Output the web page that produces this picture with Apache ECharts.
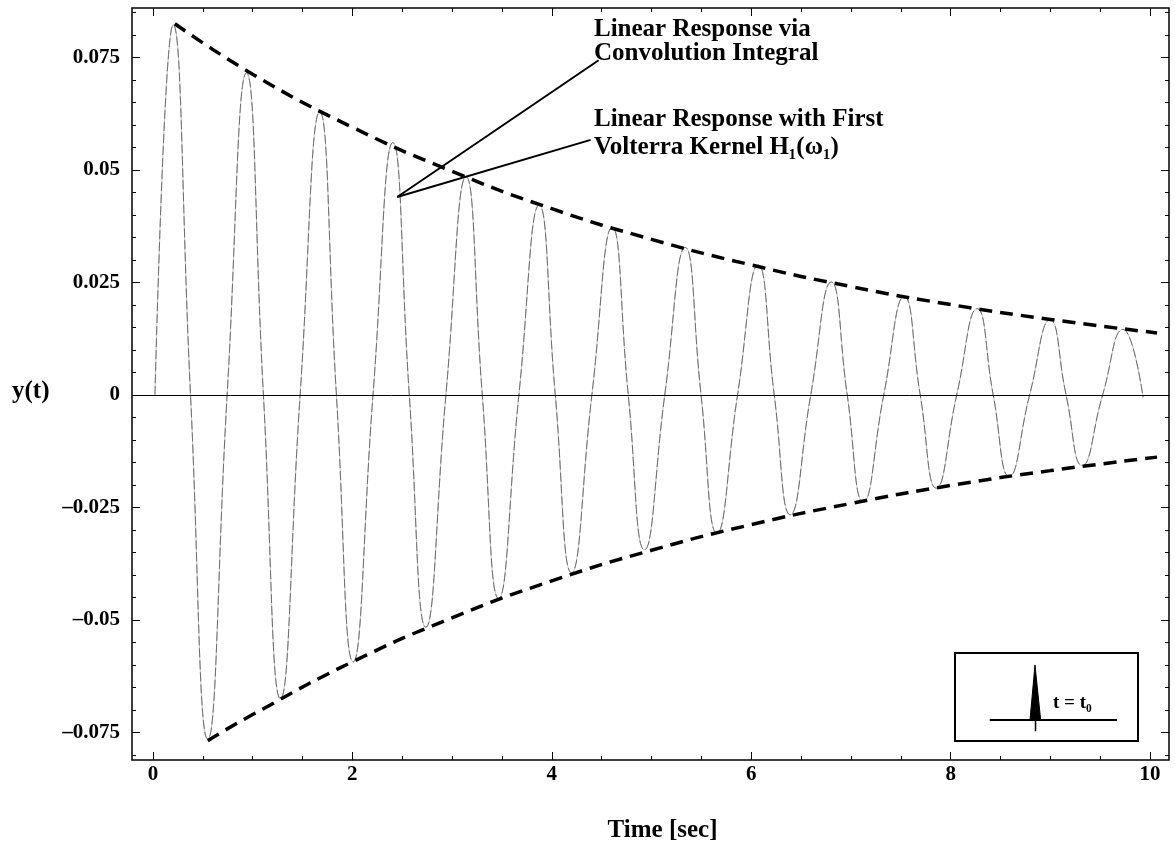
<!DOCTYPE html>
<html>
<head>
<meta charset="utf-8">
<script src="https://cdn.jsdelivr.net/npm/echarts@6/dist/echarts.min.js"></script>
<style>
html,body{margin:0;padding:0;background:#fff;}
#chart{width:1175px;height:857px;}
</style>
</head>
<body>
<div id="chart"></div>
<script>
// ---- Data ----
// Impulse response: start, peaks, zero crossings, troughs (time in s, y(t))
const respT = [0.02, 0.203, 0.377, 0.550, 0.744, 0.938, 1.108, 1.279, 1.476, 1.673, 1.840, 2.008, 2.207, 2.406,
  2.571, 2.737, 2.938, 3.140, 3.303, 3.467, 3.670, 3.873, 4.035, 4.198, 4.402, 4.606, 4.767, 4.929, 5.133, 5.338,
  5.497, 5.656, 5.863, 6.070, 6.231, 6.392, 6.597, 6.803, 6.963, 7.124, 7.329, 7.534, 7.695, 7.856, 8.061, 8.266,
  8.427, 8.588, 8.792, 8.997, 9.158, 9.320, 9.524, 9.729, 9.930];
const respY = [0, 0.0823, 0, -0.0765, 0, 0.0716, 0, -0.0675, 0, 0.0629, 0, -0.0593, 0, 0.0561,
  0, -0.0516, 0, 0.0485, 0, -0.0452, 0, 0.0422, 0, -0.0395, 0, 0.0373, 0, -0.0344, 0, 0.0328,
  0, -0.0307, 0, 0.0289, 0, -0.0266, 0, 0.0251, 0, -0.0238, 0, 0.0219, 0, -0.0207, 0, 0.0192,
  0, -0.0181, 0, 0.0167, 0, -0.0157, 0, 0.0146, -0.0005];

// Dashed envelopes
const upperEnvT = [0.22, 1.0, 2.0, 3.0, 4.0, 5.0, 6.0, 7.0, 8.0, 9.0, 10.07];
const upperEnvY = [0.0825, 0.0713, 0.0595, 0.0497, 0.0414, 0.0346, 0.0289, 0.0241, 0.0201, 0.0168, 0.0138];
const lowerEnvT = [0.55, 1.0, 2.0, 3.0, 4.0, 5.0, 6.0, 7.0, 8.0, 9.0, 10.07];
const lowerEnvY = [-0.0768, -0.0710, -0.0593, -0.0495, -0.0413, -0.0345, -0.0288, -0.0241, -0.0201, -0.0168, -0.0138];

// Tick values
const xMajorTicks = [0, 2, 4, 6, 8, 10];
const xMinorTicks = [0, 0.5, 1, 1.5, 2, 2.5, 3, 3.5, 4, 4.5, 5, 5.5, 6, 6.5, 7, 7.5, 8, 8.5, 9, 9.5, 10];
const yMajorTicks = [-0.075, -0.05, -0.025, 0, 0.025, 0.05, 0.075];
const yMinorTicks = [-0.08, -0.075, -0.07, -0.065, -0.06, -0.055, -0.05, -0.045, -0.04, -0.035, -0.03, -0.025,
  -0.02, -0.015, -0.01, -0.005, 0, 0.005, 0.01, 0.015, 0.02, 0.025, 0.03, 0.035, 0.04, 0.045, 0.05, 0.055,
  0.06, 0.065, 0.07, 0.075, 0.08, 0.085];

// Inset sketch (impulse at t = t0), unit coordinates of the inset box
const insetBaseX = [0.19, 0.885];
const insetBaseY = [0.24, 0.24];
const insetSpikeX = [0.41, 0.437, 0.468];
const insetSpikeY = [0.24, 0.864, 0.24];
const insetStemX = [0.44, 0.44];
const insetStemY = [0.24, 0.11];

// Annotation leader lines (data coordinates)
const annoAnchor = [2.45, 0.0440];
const annoEnd1 = [4.47, 0.0744];
const annoEnd2 = [4.39, 0.0567];

const labelConv = 'Linear Response via\nConvolution Integral';
const labelVolt = 'Linear Response with First\nVolterra Kernel H\u2081(\u03c9\u2081)';

// ---- Chart ----
const SERIF = '"Liberation Serif", "Times New Roman", "DejaVu Serif", serif';
const zip = (a, b) => a.map((v, i) => [v, b[i]]);
const chart = echarts.init(document.getElementById('chart'), null, {renderer: 'canvas'});

const X_MIN = -0.21, X_MAX = 10.19, Y_MIN = -0.0811, Y_MAX = 0.0860;
const mainGrid = {left: 132, right: 6, top: 8, bottom: 97};

function tickAxis(base) {
  return Object.assign({
    type: 'value', splitLine: {show: false}, axisLine: {show: false, onZero: false},
    axisLabel: {show: false}
  }, base);
}
const tick = (len, vals) => ({show: true, inside: true, length: len, customValues: vals,
  lineStyle: {color: '#000', width: 1}});

const option = {
  animation: false,
  backgroundColor: '#fff',
  grid: [
    Object.assign({show: true, borderColor: '#000', borderWidth: 1.5, backgroundColor: 'transparent'}, mainGrid),
    Object.assign({show: false}, mainGrid),
    {left: 955, top: 653, width: 183, height: 88, show: true, borderColor: '#000', borderWidth: 2, backgroundColor: '#fff'}
  ],
  xAxis: [
    tickAxis({gridIndex: 0, position: 'bottom', min: X_MIN, max: X_MAX,
      axisTick: tick(8, xMajorTicks),
      axisLabel: {show: true, customValues: xMajorTicks, margin: 4, color: '#000',
        fontFamily: SERIF, fontWeight: 'bold', fontSize: 21},
      name: 'Time [sec]', nameLocation: 'middle', nameGap: 58,
      nameTextStyle: {color: '#000', fontFamily: SERIF, fontWeight: 'bold', fontSize: 25, padding: [0, 0, 0, 24]}
    }),
    tickAxis({gridIndex: 0, position: 'top', min: X_MIN, max: X_MAX, axisTick: tick(8, xMajorTicks)}),
    tickAxis({gridIndex: 1, position: 'bottom', min: X_MIN, max: X_MAX, axisTick: tick(4, xMinorTicks)}),
    tickAxis({gridIndex: 1, position: 'top', min: X_MIN, max: X_MAX, axisTick: tick(4, xMinorTicks)}),
    {type: 'value', gridIndex: 2, min: 0, max: 1, show: false}
  ],
  yAxis: [
    tickAxis({gridIndex: 0, position: 'left', min: Y_MIN, max: Y_MAX,
      axisTick: tick(8, yMajorTicks),
      axisLabel: {show: true, customValues: yMajorTicks, margin: 12, color: '#000',
        fontFamily: SERIF, fontWeight: 'bold', fontSize: 21,
        formatter: v => v === 0 ? '0' : (v < 0 ? '\u2013' + String(-v) : String(v))}
    }),
    tickAxis({gridIndex: 0, position: 'right', min: Y_MIN, max: Y_MAX, axisTick: tick(8, yMajorTicks)}),
    tickAxis({gridIndex: 1, position: 'left', min: Y_MIN, max: Y_MAX, axisTick: tick(4, yMinorTicks)}),
    tickAxis({gridIndex: 1, position: 'right', min: Y_MIN, max: Y_MAX, axisTick: tick(4, yMinorTicks)}),
    {type: 'value', gridIndex: 2, min: 0, max: 1, show: false}
  ],
  series: [
    {
      name: 'Linear Response with First Volterra Kernel H\u2081(\u03c9\u2081)', type: 'line',
      xAxisIndex: 0, yAxisIndex: 0, data: zip(respT, respY), smooth: 0.5, showSymbol: false,
      lineStyle: {color: '#c4c4c4', width: 1}, z: 2, silent: true
    },
    {
      name: 'Linear Response via Convolution Integral', type: 'line',
      xAxisIndex: 0, yAxisIndex: 0, data: zip(respT, respY), smooth: 0.5, showSymbol: false,
      lineStyle: {color: '#6e6e6e', width: 1, type: [9, 3]}, z: 3, silent: true,
      markLine: {
        silent: true, symbol: ['none', 'none'], label: {show: false},
        lineStyle: {color: '#000', width: 2, type: 'solid'},
        data: [
          {yAxis: 0, lineStyle: {color: '#000', width: 1, type: 'solid'}},
          [{coord: annoAnchor}, {coord: annoEnd1}],
          [{coord: annoAnchor}, {coord: annoEnd2}]
        ]
      }
    },
    {
      name: 'Upper envelope', type: 'line', xAxisIndex: 0, yAxisIndex: 0,
      data: zip(upperEnvT, upperEnvY), smooth: true, showSymbol: false, silent: true,
      lineStyle: {color: '#000', width: 3.5, type: [13, 8]}, z: 4
    },
    {
      name: 'Lower envelope', type: 'line', xAxisIndex: 0, yAxisIndex: 0,
      data: zip(lowerEnvT, lowerEnvY), smooth: true, showSymbol: false, silent: true,
      lineStyle: {color: '#000', width: 3.5, type: [13, 8]}, z: 4
    },
    {
      name: 'Inset baseline', type: 'line', xAxisIndex: 4, yAxisIndex: 4,
      data: zip(insetBaseX, insetBaseY), showSymbol: false, silent: true,
      lineStyle: {color: '#000', width: 2}, z: 5
    },
    {
      name: 'Inset impulse', type: 'line', xAxisIndex: 4, yAxisIndex: 4,
      data: zip(insetSpikeX, insetSpikeY), showSymbol: false, silent: true,
      lineStyle: {color: '#000', width: 1}, areaStyle: {color: '#000', opacity: 1, origin: 0.24}, z: 5
    },
    {
      name: 'Inset stem', type: 'line', xAxisIndex: 4, yAxisIndex: 4,
      data: zip(insetStemX, insetStemY), showSymbol: false, silent: true,
      lineStyle: {color: '#000', width: 1.5}, z: 5
    }
  ],
  graphic: [
    {type: 'text', left: 12, top: 379, silent: true,
      style: {text: 'y(t)', fill: '#000', font: 'bold 25px ' + SERIF}},
    {type: 'text', left: 594, top: 17, silent: true,
      style: {text: labelConv, fill: '#000', font: 'bold 25px ' + SERIF, lineHeight: 24}},
    {type: 'text', left: 594, top: 106, silent: true,
      style: {text: labelVolt, fill: '#000', font: 'bold 25px ' + SERIF, lineHeight: 28}},
    {type: 'text', left: 1053, top: 694, silent: true, z: 10,
      style: {text: 't = t\u2080', fill: '#000', font: 'bold 19px ' + SERIF}}
  ]
};
chart.setOption(option);
</script>
</body>
</html>
